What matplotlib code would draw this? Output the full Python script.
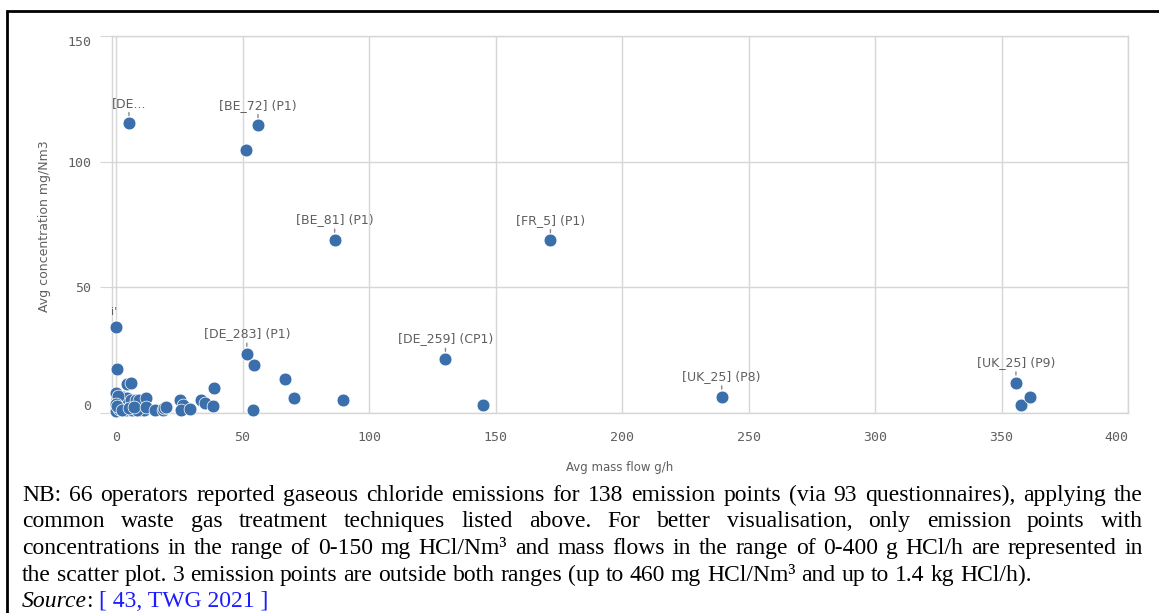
import matplotlib
matplotlib.use("Agg")
import matplotlib.pyplot as plt
from matplotlib.patches import Rectangle

# points reported (mass flow g/h, concentration mg/Nm3)
mass_flow = [5.1, 56.1, 51.2, 86.4, 171.7, 130.2, 145.0, 239.4, 355.7, 357.7, 361.1,
             51.7, 54.7, 66.8, 70.2, 89.6, 54.0, 0.0, 0.5, 4.5, 5.9,
             11.7, 12.0, 15.5, 18.4, 18.8, 19.7, 25.2, 26.5, 25.7, 29.2,
             33.5, 35.2, 38.5, 38.7]
concentration = [115.3, 114.5, 104.8, 68.9, 68.7, 21.5, 3.1, 6.5, 12.1, 3.1, 6.4,
                 23.5, 19.1, 13.4, 5.9, 5.1, 1.3, 34.4, 17.4, 11.4, 12.1,
                 6.1, 2.5, 1.2, 1.0, 1.9, 2.2, 5.1, 3.2, 1.1, 1.6,
                 5.2, 3.8, 2.8, 9.8]

# dense cluster close to the origin
cluster_flow = [0.0, 0.3, 0.5, 0.8, 1.0, 0.2, 0.5, 1.2, 1.5, 2.0, 2.2, 2.5, 3.0, 3.3,
                3.5, 4.0, 4.2, 4.8, 5.0, 5.5, 6.0, 6.3, 6.8, 7.0, 7.5, 8.0, 8.4, 8.8,
                9.2, 9.6, 10.0, 10.5, 11.0, 0.1, 1.8, 2.8, 4.5, 5.8, 7.8, 9.0, 0.6,
                1.3, 3.8, 6.5, 8.3, 0.0, 0.4, 2.4, 5.2, 7.2]
cluster_conc = [7.8, 5.5, 4.0, 3.0, 2.0, 1.1, 1.0, 5.0, 3.5, 2.5, 4.4, 1.2, 3.1, 5.6,
                1.1, 2.2, 4.0, 1.5, 3.3, 1.2, 2.4, 4.8, 1.9, 3.7, 1.0, 2.9, 4.2, 1.3,
                3.4, 1.0, 2.0, 3.0, 1.3, 0.9, 1.0, 6.2, 6.0, 5.2, 5.0, 5.3, 6.8,
                1.6, 1.2, 1.3, 1.1, 3.6, 2.6, 1.3, 2.0, 2.3]

labels = {0: "[DE...", 1: "[BE_72] (P1)", 3: "[BE_81] (P1)", 4: "[FR_5] (P1)",
          5: "[DE_259] (CP1)", 7: "[UK_25] (P8)", 8: "[UK_25] (P9)", 11: "[DE_283] (P1)"}

x_ticks = [0, 50, 100, 150, 200, 250, 300, 350, 400]
y_ticks = [0, 50, 100, 150]

caption = [
    "NB: 66 operators reported gaseous chloride emissions for 138 emission points (via 93 questionnaires), applying the",
    "common waste gas treatment techniques listed above. For better visualisation, only emission points with",
    "concentrations in the range of 0-150 mg HCl/Nm³ and mass flows in the range of 0-400 g HCl/h are represented in",
    "the scatter plot. 3 emission points are outside both ranges (up to 460 mg HCl/Nm³ and up to 1.4 kg HCl/h).",
]

W, H = 1159, 613
blue = "#3a6fab"
grey = "#d6d6d6"
txt = "#5f5f5f"

fig = plt.figure(figsize=(W / 100, H / 100), dpi=100)
ax = fig.add_axes([112 / W, 1 - 413 / H, (1128 - 112) / W, (413 - 36) / H])

ax.scatter(cluster_flow + mass_flow, cluster_conc + concentration, s=85, color=blue,
           edgecolor="white", linewidth=0.5, zorder=3, clip_on=False)

for i, lab in labels.items():
    ax.annotate(lab, xy=(mass_flow[i], concentration[i]), xytext=(0, 20),
                textcoords="offset pixels", ha="center", va="center",
                fontsize=9, color=txt,
                arrowprops=dict(arrowstyle="-", color="#888888", lw=1,
                                shrinkA=0, shrinkB=5.5))
ax.annotate("i'", xy=(mass_flow[17], concentration[17]), xytext=(-2, 15),
            textcoords="offset pixels", ha="center", va="center", fontsize=8, color=txt)

ax.set_xlim(-1.6, 400)
ax.set_ylim(0, 150)
ax.set_xticks(x_ticks)
ax.set_yticks(y_ticks)
ax.grid(True, color=grey, lw=1)
ax.set_axisbelow(True)
for s in ax.spines.values():
    s.set_color(grey)
    s.set_linewidth(1)
ax.tick_params(axis="y", length=9, color=grey, pad=6, labelsize=9.5, labelcolor=txt)
ax.tick_params(axis="x", length=0, pad=13, labelsize=9.5, labelcolor=txt)
for lab in ax.get_yticklabels() + ax.get_xticklabels():
    lab.set_fontfamily("DejaVu Sans Mono")
ylabs = ax.get_yticklabels()
ylabs[0].set_va("bottom")
ylabs[-1].set_va("top")
ax.get_xticklabels()[-1].set_ha("right")

fig.text(45 / W, 1 - 226 / H, "Avg concentration mg/Nm3", rotation=90,
         ha="center", va="center", fontsize=9, color=txt)
fig.text(620 / W, 1 - 468 / H, "Avg mass flow g/h", ha="center", va="center",
         fontsize=8.5, color=txt)

# caption, first three lines justified
r = fig.canvas.get_renderer()
cap_kw = dict(family="Liberation Serif", fontsize=17, color="black", va="baseline")


def width(s, **kw):
    t = fig.text(0, 0, s, **kw)
    w = t.get_window_extent(r).width
    t.remove()
    return w


x0, x1 = 22, 1143
base = [501, 527, 554, 581]
for k, line in enumerate(caption):
    words = line.split(" ")
    ws = [width(w, **cap_kw) for w in words]
    if k < 3:
        gap = (x1 - x0 - sum(ws)) / (len(words) - 1)
    else:
        gap = width("a b", **cap_kw) - width("ab", **cap_kw)
    x = x0
    for w, wd in zip(words, ws):
        fig.text(x / W, 1 - base[k] / H, w, ha="left", **cap_kw)
        x += wd + gap

x = x0
for part, kw in [("Source", dict(style="italic", color="black")),
                 (": ", dict(color="black")),
                 ("[ 43, TWG 2021 ]", dict(color="#1c1cff"))]:
    k2 = dict(cap_kw)
    k2.update(kw)
    fig.text(x / W, 1 - 607 / H, part, ha="left", **k2)
    x += width(part, **k2)

fig.patches.append(Rectangle((7 / W, -0.1), 1.2, 1 - 11 / H + 0.1, transform=fig.transFigure,
                             fill=False, edgecolor="black", lw=2))

fig.savefig("out.png", dpi=100)
